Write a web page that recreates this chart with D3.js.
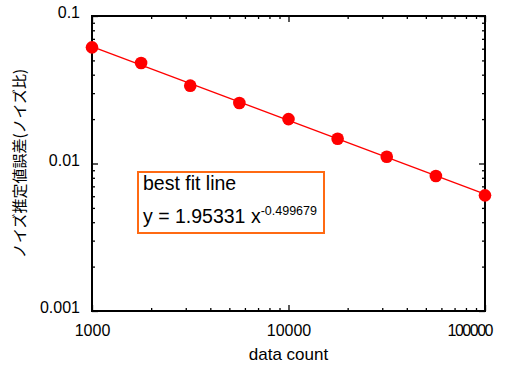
<!DOCTYPE html>
<html>
<head>
<meta charset="utf-8">
<script src="https://cdn.jsdelivr.net/npm/d3@7"></script>
<style>
  body { margin: 0; background: #fff; }
  text { font-family: "Liberation Sans", Arial, sans-serif; fill: #000; }
</style>
</head>
<body>
<div id="chart"></div>
<script>
// data
const counts = [1000, 1778, 3162, 5623, 10000, 17783, 31623, 56234, 100000];
const errors = [0.0613, 0.0480, 0.0337, 0.0257, 0.0200, 0.0147, 0.0111, 0.00823, 0.00608];
// best fit line end points
const fitX = [1000, 100000];
const fitY = [0.0619, 0.00620];
const xTickLabels = [1000, 10000, 100000];
const yTickLabels = [0.001, 0.01, 0.1];
const fitTitle = "best fit line";
const fitCoef = "1.95331";
const fitExp = "-0.499679";

const W = 511, H = 365;
const margin = {top: 16, left: 92, right: 26, bottom: 54};
const width = W - margin.left - margin.right;
const height = H - margin.top - margin.bottom;

const svg = d3.select("#chart").append("svg")
  .attr("width", W).attr("height", H);

const g = svg.append("g")
  .attr("transform", "translate(" + margin.left + "," + margin.top + ")");

const x = d3.scaleLog().domain([1000, 100000]).range([0, width]);
const y = d3.scaleLog().domain([0.001, 0.1]).range([height, 0]);

const xMinor = x.ticks().filter(d => xTickLabels.indexOf(d) < 0);
const yMinor = y.ticks().filter(d => yTickLabels.indexOf(d) < 0);

function tickStyle(sel) {
  sel.select(".domain").remove();
  sel.selectAll("line").attr("stroke", "#000").attr("stroke-width", 1.3);
}

// bottom
g.append("g").attr("transform", "translate(0," + height + ")")
  .call(d3.axisBottom(x).tickValues(xTickLabels).tickSize(-6).tickPadding(14).tickFormat(d3.format("d")))
  .call(tickStyle)
  .call(s => s.selectAll("text").attr("font-size", 16))
  .call(s => s.selectAll("text").filter(d => d === 100000)
    .attr("text-anchor", "end").attr("x", 8).attr("textLength", 46));
g.append("g").attr("transform", "translate(0," + height + ")")
  .call(d3.axisBottom(x).tickValues(xMinor).tickSize(-3).tickFormat(""))
  .call(tickStyle);
// top
g.append("g")
  .call(d3.axisTop(x).tickValues(xTickLabels).tickSize(-6).tickFormat(""))
  .call(tickStyle);
g.append("g")
  .call(d3.axisTop(x).tickValues(xMinor).tickSize(-3).tickFormat(""))
  .call(tickStyle);
// left
g.append("g")
  .call(d3.axisLeft(y).tickValues(yTickLabels).tickSize(-6).tickPadding(12).tickFormat(d => String(d)))
  .call(tickStyle)
  .call(s => s.selectAll("text").attr("font-size", 16).attr("dy", "0.1em"));
g.append("g")
  .call(d3.axisLeft(y).tickValues(yMinor).tickSize(-3).tickFormat(""))
  .call(tickStyle);
// right
g.append("g").attr("transform", "translate(" + width + ",0)")
  .call(d3.axisRight(y).tickValues(yTickLabels).tickSize(-6).tickFormat(""))
  .call(tickStyle);
g.append("g").attr("transform", "translate(" + width + ",0)")
  .call(d3.axisRight(y).tickValues(yMinor).tickSize(-3).tickFormat(""))
  .call(tickStyle);

// frame
g.append("rect")
  .attr("width", width).attr("height", height)
  .attr("fill", "none").attr("stroke", "#000").attr("stroke-width", 2);

// fit line
g.append("path")
  .datum(fitX.map((d, i) => [d, fitY[i]]))
  .attr("fill", "none")
  .attr("stroke", "#ff0000")
  .attr("stroke-width", 1.3)
  .attr("d", d3.line().x(d => x(d[0])).y(d => y(d[1])));

// points
g.selectAll(".dot")
  .data(counts)
  .enter().append("circle")
  .attr("class", "dot")
  .attr("cx", d => x(d))
  .attr("cy", (d, i) => y(errors[i]))
  .attr("r", 6.3)
  .attr("fill", "#ff0000");

// fit box
const box = g.append("g").attr("transform", "translate(46,156)");
box.append("rect")
  .attr("width", 186).attr("height", 61)
  .attr("fill", "#fff").attr("stroke", "#ff6a13").attr("stroke-width", 2);
box.append("text").attr("x", 5).attr("y", 18).attr("font-size", 19.5).text(fitTitle);
const eq = box.append("text").attr("x", 5).attr("y", 51).attr("font-size", 19.5);
eq.append("tspan").text("y = " + fitCoef + " x");
eq.append("tspan").attr("font-size", 12.5).attr("dy", -8).text(fitExp);

// axis titles
svg.append("text")
  .attr("x", margin.left + width / 2).attr("y", 360)
  .attr("text-anchor", "middle").attr("font-size", 17)
  .text("data count");

svg.append("text")
  .attr("transform", "translate(25," + (margin.top + height / 2) + ") rotate(-90)")
  .attr("text-anchor", "middle").attr("font-size", 15)
  .style("font-family", "'Noto Sans CJK JP', sans-serif")
  .text("ノイズ推定値誤差(ノイズ比)");
</script>
</body>
</html>
